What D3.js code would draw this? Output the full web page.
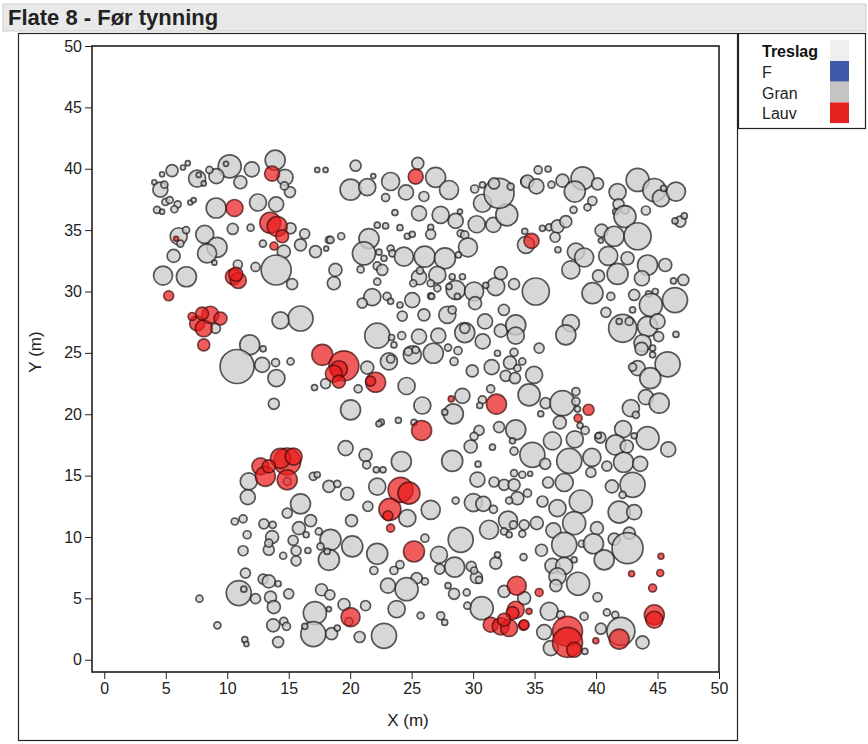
<!DOCTYPE html>
<html><head><meta charset="utf-8">
<script src="https://cdn.jsdelivr.net/npm/d3@7"></script>
<style>
html,body{margin:0;padding:0;background:#fff;}
svg{display:block;font-family:"Liberation Sans",Arial,sans-serif;}
</style></head>
<body><svg id="c" width="868" height="744"></svg>
<script>
// ---- data: [x (m), y (m), diameter (cm)] ----
const granTrees = [
[13.9,40.7,20],[14.7,39.3,16],[15.1,38.1,11],[14.65,38.6,8],[10.2,40.2,23],[9.9,40.4,5],[12.0,39.95,15],[11.07,38.9,13],
[9.12,39.4,15],[8.55,39.9,7],[7.55,39.2,17],[7.68,39.5,5],[8.09,38.8,5],[5.51,39.85,12],[6.79,40.45,5],[6.4,40.1,5],
[4.7,39.55,5],[4.07,38.9,5],[4.56,38.3,15],[4.89,38.7,7],[4.97,37.3,7],[5.32,37.45,7],[5.97,37.1,7],[5.7,36.7,7],
[4.29,36.65,7],[4.7,36.5,5],[7.0,37.25,5],[7.27,37.45,5],[9.1,36.8,20],[12.5,37.25,17],[13.98,37.1,15],[15.15,35.15,11],
[14.6,33.25,13],[15.96,33.8,12],[16.3,34.7,10],[12.9,33.9,7],[17.18,33.25,12],[18.27,34.2,7],[18.05,33.5,5],[11.9,35.2,7],
[10.45,35.1,11],[8.17,34.65,18],[9.17,33.6,20],[8.36,33.1,19],[6.05,34.5,17],[6.65,35.0,7],[6.19,33.9,7],[5.64,32.9,13],
[8.96,32.35,5],[10.86,32.2,9],[12.3,32.0,9],[13.98,31.75,30],[15.28,30.6,11],[4.78,31.3,19],[6.68,31.2,20],[15.96,27.8,25],
[14.33,27.64,17],[17.32,39.9,5],[18.0,39.9,5],
[20.44,40.25,11],[20.03,38.3,21],[21.39,38.5,17],[21.88,39.4,5],[23.29,38.96,18],[22.88,37.65,8],[25.5,40.44,12],[26.95,39.3,20],
[28.04,38.27,19],[24.54,38.07,15],[26.0,37.74,10],[23.64,36.43,6],[25.6,36.37,15],[27.36,36.24,17],[28.58,35.75,15],[28.93,36.51,5],
[30.29,35.48,17],[31.65,35.42,15],[32.74,36.24,22],[30.76,37.19,18],[32.11,38.0,30],[31.7,38.8,11],[30.13,38.35,8],[30.76,38.68,6],
[33.06,38.55,7],[34.28,38.95,10],[34.3,33.8,17],[22.2,35.4,6],[22.88,35.34,6],[24.05,35.2,6],[26.55,35.23,6],[26.55,34.66,10],
[24.65,34.5,6],[25.05,34.66,6],[19.27,34.5,7],[21.53,34.31,20],[21.12,33.1,23],[28.99,34.74,7],[29.32,34.61,8],[29.58,33.6,19],
[23.29,33.5,7],[23.43,33.1,7],[24.37,32.84,19],[26.06,32.84,21],[27.71,32.7,21],[22.75,32.7,6],[22.34,33.2,6],[28.8,32.98,6],
[18.4,34.2,7],[18.8,31.76,13],[18.67,30.67,13],[20.85,31.8,7],[22.2,32.08,8],[22.61,31.76,11],[22.2,30.8,7],[25.6,31.16,15],
[27.09,31.35,17],[25.68,31.7,7],[25.13,30.67,7],[26.55,30.67,7],[27.09,30.26,7],[26.55,29.64,6],[28.3,31.2,6],[29.13,31.2,6],
[28.58,30.13,19],[30.08,30.0,19],[28.04,30.4,6],[28.72,29.6,6],[30.16,29.05,13],[31.84,30.4,18],[32.25,31.49,13],[31.03,30.5,6],
[33.33,30.6,11],[21.8,29.54,17],[20.98,29.05,10],[23.0,29.6,8],[23.29,29.2,6],[24.05,28.9,6],[25.05,29.3,15],[26.63,29.6,6],
[27.9,28.1,17],[28.3,28.5,8],[26.0,28.1,12],[24.24,28.0,10],[32.5,28.5,11],
[35.29,39.9,8],[36.1,39.98,6],[34.42,38.96,13],[35.15,38.56,15],[36.37,38.7,7],[37.27,39.03,13],[38.9,39.22,23],[38.27,38.14,21],
[40.12,38.76,12],[39.7,37.38,9],[39.3,36.86,7],[38.17,36.65,7],[43.38,39.09,23],[44.74,38.27,23],[45.28,37.6,17],[46.5,38.14,19],
[45.5,38.4,6],[41.75,38.1,17],[41.83,37.1,11],[42.35,36.65,8],[41.6,36.5,6],[42.35,36.1,22],[44.05,36.6,9],[46.85,35.7,11],
[47.18,36.16,6],[46.42,35.75,6],[34.2,34.9,6],[35.64,35.15,6],[36.19,35.23,7],[36.86,35.3,13],[37.54,35.7,12],[36.67,34.42,10],
[36.9,33.4,6],[38.36,33.25,17],[39.03,32.77,19],[40.45,34.96,13],[40.39,34.15,5],[41.47,34.5,20],[43.38,34.5,27],[40.99,32.9,19],
[42.56,32.71,13],[44.19,32.16,20],[45.63,32.16,13],[37.95,31.76,18],[40.2,31.27,12],[41.75,31.43,21],[43.73,31.08,15],[46.3,30.86,6],
[47.1,30.94,11],[35.1,30.0,27],[39.71,29.86,21],[41.2,29.6,8],[43.1,29.72,11],[44.27,29.8,6],[44.82,30.0,6],[44.46,28.9,23],
[46.42,29.3,25],[40.8,28.3,10],[42.97,28.5,6],
[37.95,27.42,17],[37.54,26.47,20],[42.16,27.0,28],[41.88,27.56,6],[42.7,27.56,8],[44.19,27.15,20],[45.0,27.56,15],[46.5,26.5,6],
[45.09,26.33,10],[43.78,25.79,17],[43.7,25.33,13],[44.6,25.38,6],[44.6,24.84,6],[45.82,24.07,25],[43.38,23.75,15],[42.97,23.84,8],
[44.41,22.94,21],[35.37,25.38,10],[34.96,23.21,17],[44.05,21.39,15],[45.14,20.9,20],[42.83,20.49,17],[43.24,19.95,7],[34.55,21.58,22],
[35.9,20.9,11],[37.27,20.9,25],[38.36,21.85,8],[38.36,21.04,8],[38.49,20.42,6],[38.7,19.08,6],[39.11,18.68,8],[35.5,20.03,6],
[37.05,19.33,13],[40.34,18.1,11],[40.18,18.24,6],[42.2,18.79,17],[44.19,18.05,23],[43.1,18.24,6],[41.6,17.5,20],[42.5,17.37,13],
[45.87,17.13,15],[36.45,17.83,18],[38.27,17.96,17],[34.82,16.69,25],[37.82,16.2,25],[39.66,16.48,18],[35.86,15.96,11],[40.88,15.77,10],
[42.24,16.09,20],[43.59,15.96,15],[39.58,15.26,10],[34.64,15.15,5],[37.41,14.44,18],[36.1,14.44,11],[42.97,14.25,25],[41.29,14.12,13],
[9.04,27.0,10],[11.83,25.65,20],[12.92,25.33,6],[10.8,23.89,34],[12.84,24.02,15],[13.93,24.2,8],[15.15,24.3,7],[14.0,22.94,17],
[17.1,22.17,6],[13.79,20.85,11],[11.75,14.53,17],[17.0,14.94,8],[17.32,15.07,6],[18.27,14.12,12],[18.95,14.33,7],[14.88,14.53,8],
[18.0,22.5,10],
[22.2,26.4,25],[23.37,26.25,6],[24.19,26.4,8],[25.6,26.33,15],[27.17,26.4,15],[29.32,26.65,20],[29.32,27.0,10],[30.97,27.56,15],
[32.25,26.81,13],[33.47,27.28,20],[33.47,26.4,17],[30.78,25.93,15],[23.56,25.65,6],[23.15,24.3,17],[23.29,24.5,8],[25.05,24.84,18],
[24.73,25.1,8],[25.33,25.24,7],[26.76,24.97,20],[27.96,25.43,7],[28.77,25.18,8],[28.45,24.3,8],[31.98,24.97,6],[31.51,23.84,15],
[33.0,24.2,13],[33.33,25.04,8],[34.0,24.3,7],[33.6,23.75,7],[32.65,23.13,11],[33.4,22.94,11],[29.93,23.53,12],[21.39,23.8,13],
[20.65,22.07,8],[24.59,22.3,17],[20.03,20.36,20],[25.87,20.71,17],[29.13,21.5,15],[28.39,20.03,20],[27.69,20.17,6],[31.43,22.07,8],
[30.75,21.17,8],[30.54,20.71,6],[22.53,19.35,6],[22.34,19.22,6],[23.92,19.5,6],[25.19,19.33,6],[30.48,18.68,10],[30.08,18.2,8],
[29.8,17.37,13],[31.57,17.32,6],[32.11,18.95,11],[33.47,18.73,20],[33.2,17.83,6],[33.33,17.0,8],[19.63,17.24,15],[21.25,16.67,13],
[21.34,15.88,8],[24.16,16.15,20],[22.12,15.47,6],[22.67,15.47,6],[28.3,16.2,21],[30.4,15.93,6],[30.35,14.68,15],[31.7,14.48,10],
[34.0,15.07,7],[33.33,15.2,7],[22.2,14.1,17],
[11.67,13.25,15],[15.96,12.7,20],[14.88,11.94,10],[16.78,11.34,12],[10.61,11.26,7],[11.29,11.48,8],[12.98,11.07,10],[13.7,10.99,7],
[15.83,10.72,13],[17.45,10.45,7],[18.4,9.77,21],[13.65,9.99,13],[13.38,8.96,11],[13.38,9.5,8],[11.62,10.18,8],[16.42,10.18,6],
[15.36,9.72,10],[15.6,8.88,10],[15.6,8.06,10],[16.56,8.9,6],[11.29,8.88,10],[14.55,8.47,7],[18.27,8.14,21],[17.59,9.23,7],
[18.13,8.82,6],[11.48,7.06,10],[10.94,5.43,25],[11.35,5.75,6],[12.92,6.57,10],[13.38,6.38,13],[14.14,6.19,6],[12.3,4.97,10],
[13.52,5.1,12],[15.0,5.37,10],[13.79,4.29,13],[7.74,4.97,7],[9.2,2.8,7],[13.74,2.8,13],[14.6,3.13,8],[14.82,2.72,8],
[11.43,1.63,6],[11.56,1.28,5],[14.14,1.44,11],[17.67,5.7,12],[18.35,5.29,10],[18.27,4.13,5],[17.13,3.8,23],[17.0,2.09,25],
[18.49,2.12,12],[16.31,2.72,6],[18.95,2.58,6],
[19.76,13.52,13],[21.44,12.5,10],[24.65,11.53,17],[26.55,12.21,19],[20.11,11.34,12],[26.08,9.9,8],[20.17,9.23,21],[22.2,8.63,21],
[27.22,8.55,17],[28.99,9.77,25],[28.58,12.97,7],[30.02,12.8,18],[30.83,12.7,15],[31.65,12.25,8],[31.3,10.59,19],[32.84,11.34,19],
[33.28,10.99,8],[32.52,10.45,7],[34.0,10.26,7],[34.15,10.99,10],[32.93,10.18,6],[32.52,14.25,11],[33.33,14.25,12],[33.6,13.16,13],
[32.93,12.97,7],[31.84,7.87,12],[31.98,8.55,6],[34.1,8.36,7],[28.5,7.55,20],[29.85,7.6,10],[30.27,6.7,12],[30.48,6.51,7],
[30.08,7.27,7],[27.28,7.38,10],[26.08,6.38,7],[25.41,6.65,11],[24.59,5.75,23],[24.05,7.74,8],[23.56,7.27,8],[21.93,7.27,8],
[23.07,6.03,15],[23.78,4.13,17],[28.45,5.37,11],[27.96,6.03,6],[29.48,5.48,7],[30.7,4.2,23],[29.53,4.4,7],[32.52,5.57,12],
[34.15,5.02,13],[22.75,1.95,25],[20.77,1.85,11],[21.25,4.4,10],[19.5,4.5,12],[25.73,3.6,7],[27.36,3.58,8],[27.69,3.04,6],
[19.9,3.1,8],
[42.16,13.43,7],[35.64,12.89,11],[36.86,12.35,17],[38.76,12.89,23],[41.88,12.02,22],[43.1,12.02,15],[34.42,13.57,8],[35.18,11.13,13],
[36.53,10.54,15],[38.22,11.13,23],[40.07,10.72,13],[37.41,9.36,25],[38.84,9.45,7],[39.79,9.45,20],[41.47,9.83,12],[42.7,10.32,12],
[42.56,9.09,31],[40.66,8.14,20],[35.56,8.92,12],[36.45,7.65,15],[37.41,7.65,17],[38.22,8.14,6],[36.86,6.79,17],[36.73,6.03,12],
[38.54,6.19,23],[40.12,5.1,9],[36.19,3.94,18],[37.13,3.66,8],[39.03,3.53,8],[40.88,3.85,7],[41.56,3.66,7],[35.78,2.25,15],
[40.39,2.53,11],[42.02,2.31,28],[43.78,1.41,13],[36.32,0.95,15],[39.09,0.68,6]
];
const lauvTrees = [
[13.65,39.6,15],[10.59,36.8,17],[13.5,35.6,21],[14.06,35.3,20],[14.47,34.5,13],[13.8,33.7,8],[5.84,34.3,5],
[10.5,31.2,16],[10.9,30.9,16],[10.7,31.4,14],[5.24,29.65,10],[25.33,39.36,15],[34.75,34.12,15],
[7.55,27.4,15],[8.09,27.0,17],[8.63,28.1,17],[9.45,27.8,13],[7.95,28.2,13],[7.14,27.96,8],[8.09,25.65,12],
[17.73,24.84,21],[19.49,23.94,30],[19.08,23.67,17],[18.67,23.3,17],[19.08,22.66,13],[22.07,22.6,20],[21.66,22.7,10],
[28.22,21.25,6],[31.9,20.82,20],[25.81,18.68,20],[39.39,20.36,11],[38.54,19.68,8],
[14.88,16.15,27],[14.33,16.4,20],[15.4,16.55,17],[12.7,15.75,17],[13.1,14.94,20],[14.88,14.66,20],[13.38,15.75,13],
[24.1,13.84,25],[24.78,13.57,22],[23.23,12.25,22],[23.07,11.73,10],[23.29,10.72,8],[25.19,8.82,21],
[33.55,6.03,19],[33.47,4.07,17],[33.2,3.8,13],[31.43,2.85,15],[32.25,2.72,17],[32.93,2.58,17],[34.1,2.8,10],[32.52,3.26,13],
[20.03,3.47,19],
[45.28,8.43,6],[42.89,7.0,6],[45.22,7.06,7],[44.6,5.84,8],[35.37,5.48,8],[44.74,3.66,20],[44.74,3.26,17],[34.55,3.94,6],
[34.15,2.85,10],[41.88,1.68,20],[37.68,2.31,30],[37.68,1.41,30],[39.98,1.55,6],[38.22,0.81,15]
];
const xTicks = [0,5,10,15,20,25,30,35,40,45,50];
const yTicks = [0,5,10,15,20,25,30,35,40,45,50];
const legendLabels = ["F","Gran","Lauv"];
const legendColors = ["#4059a9","#c4c4c4","#e42320"];

const svg = d3.select("#c");
// title bar
svg.append("rect").attr("x",3).attr("y",4).attr("width",863).attr("height",27)
  .attr("fill","#e9e9e9").attr("stroke","#cdcdcd");
svg.append("text").attr("x",8).attr("y",25).attr("font-size",22).attr("font-weight","bold")
  .attr("fill","#222").text("Flate 8 - Før tynning");
// outer chart box and legend box
svg.append("rect").attr("x",18.5).attr("y",33.5).attr("width",719).attr("height",707)
  .attr("fill","none").attr("stroke","#222").attr("stroke-width",1.2);
svg.append("rect").attr("x",738.5).attr("y",33.5).attr("width",127).attr("height",95)
  .attr("fill","#fff").attr("stroke","#222").attr("stroke-width",1.2);

const x = d3.scaleLinear().domain([-1,50]).range([92,719]);
const y = d3.scaleLinear().domain([-1,50]).range([672,46]);
const r = d3.scaleLinear().domain([0,40]).range([0,20]);

const plot = svg.append("g");
plot.append("clipPath").attr("id","clip").append("rect")
  .attr("x",92).attr("y",46).attr("width",627).attr("height",626);
const dots = plot.append("g").attr("clip-path","url(#clip)");
dots.selectAll("circle.g").data(granTrees).join("circle").attr("class","g")
  .attr("cx",d=>x(d[0])).attr("cy",d=>y(d[1])).attr("r",d=>r(d[2]))
  .attr("fill","#cdcdcd").attr("fill-opacity",0.8)
  .attr("stroke","#1a1a1a").attr("stroke-opacity",0.72).attr("stroke-width",1.7);
dots.selectAll("circle.l").data(lauvTrees).join("circle").attr("class","l")
  .attr("cx",d=>x(d[0])).attr("cy",d=>y(d[1])).attr("r",d=>r(d[2]))
  .attr("fill","#ea1c1c").attr("fill-opacity",0.72)
  .attr("stroke","#3a0a0a").attr("stroke-opacity",0.7).attr("stroke-width",1.6);

plot.append("rect").attr("x",92).attr("y",46).attr("width",627).attr("height",626)
  .attr("fill","none").attr("stroke","#111").attr("stroke-width",1.5);

const xAxis = svg.append("g").attr("transform","translate(0,672)")
  .call(d3.axisBottom(x).tickValues(xTicks).tickSize(7).tickPadding(4));
const yAxis = svg.append("g").attr("transform","translate(92,0)")
  .call(d3.axisLeft(y).tickValues(yTicks).tickSize(7).tickPadding(3));
[xAxis,yAxis].forEach(a=>{
  a.select(".domain").remove();
  a.selectAll("line").attr("stroke","#222");
  a.selectAll("text").attr("font-size",16).attr("fill","#222").attr("font-family","Liberation Sans, Arial, sans-serif");
});
svg.append("text").attr("x",408).attr("y",726).attr("text-anchor","middle")
  .attr("font-size",17).attr("fill","#222").text("X (m)");
svg.append("text").attr("transform","translate(41,352) rotate(-90)").attr("text-anchor","middle")
  .attr("font-size",17).attr("fill","#222").text("Y (m)");

// legend
svg.append("rect").attr("x",830).attr("y",40).attr("width",19).attr("height",21).attr("fill","#efefef");
svg.append("text").attr("x",762).attr("y",57).attr("font-size",16).attr("font-weight","bold")
  .attr("fill","#111").text("Treslag");
const lg = svg.append("g");
legendLabels.forEach((lab,i)=>{
  lg.append("rect").attr("x",830).attr("y",61+i*20.7).attr("width",19).attr("height",20.7)
    .attr("fill",legendColors[i]);
  lg.append("text").attr("x",762).attr("y",78+i*20.5).attr("font-size",16).attr("fill","#222").text(lab);
});
</script></body></html>
